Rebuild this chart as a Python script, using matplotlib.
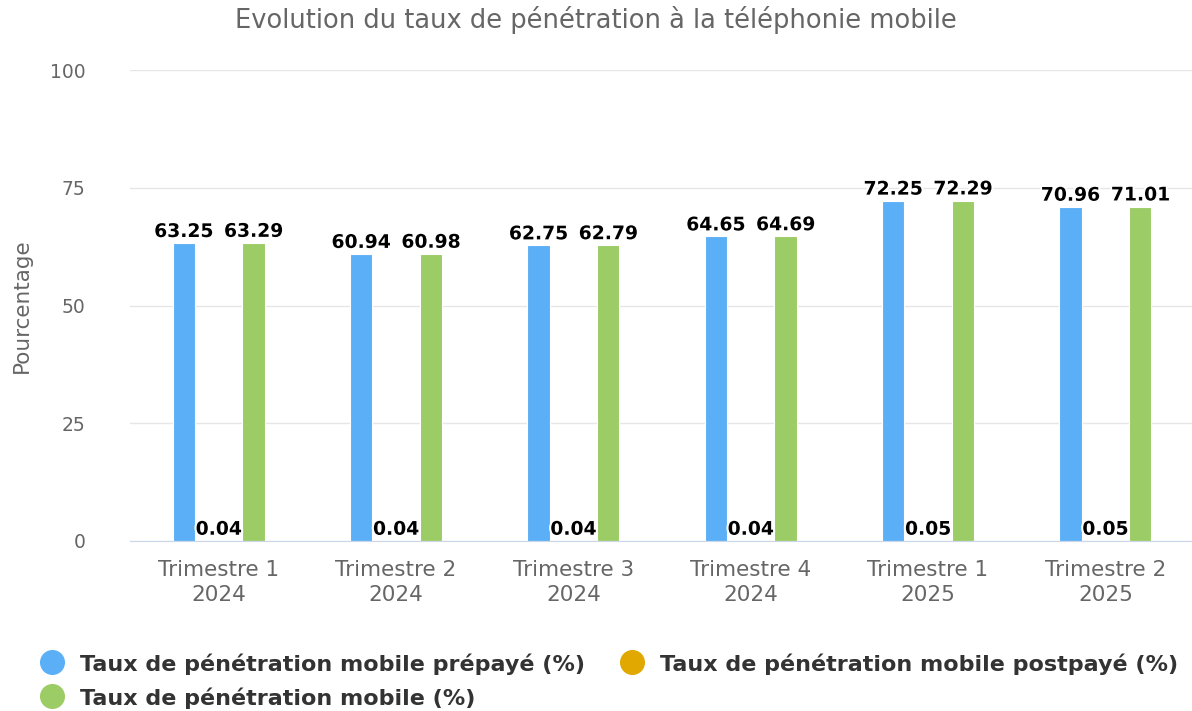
import matplotlib
matplotlib.use("Agg")
import matplotlib.pyplot as plt
import matplotlib.patheffects as pe
from matplotlib.lines import Line2D
import numpy as np

plt.rcParams["font.family"] = ["DejaVu Sans"]

categories = ["Trimestre 1\n2024", "Trimestre 2\n2024", "Trimestre 3\n2024",
              "Trimestre 4\n2024", "Trimestre 1\n2025", "Trimestre 2\n2025"]
prepaye = [63.25, 60.94, 62.75, 64.65, 72.25, 70.96]
postpaye = [0.04, 0.04, 0.04, 0.04, 0.05, 0.05]
mobile = [63.29, 60.98, 62.79, 64.69, 72.29, 71.01]
series_names = ["Taux de pénétration mobile prépayé (%)",
                "Taux de pénétration mobile postpayé (%)",
                "Taux de pénétration mobile (%)"]
colors = ["#5aaff6", "#e0a800", "#9ccc65"]

W, H = 1192, 711
fig = plt.figure(figsize=(W / 100, H / 100), dpi=100)
ax = fig.add_axes([130 / W, (H - 541) / H, 1064 / W, 471 / H])

x = np.arange(len(categories))
off = 0.197
bw = 0.126
series = [prepaye, postpaye, mobile]
outline = [pe.withStroke(linewidth=3, foreground="white")]
for k, (vals, c) in enumerate(zip(series, colors)):
    xs = x + (k - 1) * off
    ax.bar(xs, vals, width=bw, color=c, edgecolor="white", linewidth=0.8, zorder=3)
    for xi, v in zip(xs, vals):
        ax.annotate(f"{v:.2f}", (xi, v), xytext=(0, 1.5), textcoords="offset points",
                    ha="center", va="bottom", fontsize=13.5, fontweight="bold",
                    color="black", path_effects=outline, zorder=5)

ax.set_xlim(-0.5, len(categories) - 0.5)
ax.set_ylim(0, 100)
ax.set_yticks([0, 25, 50, 75, 100])
ax.grid(axis="y", color="#e6e6e6", linewidth=1, zorder=0)
for s in ["top", "right", "left"]:
    ax.spines[s].set_visible(False)
ax.spines["bottom"].set_color("#ccd6eb")
ax.spines["bottom"].set_zorder(4)
ax.set_xticks(x)
ax.set_xticklabels(categories, color="#666666", fontsize=15.5, linespacing=1.3)
ax.tick_params(axis="x", length=0, pad=14)
ax.tick_params(axis="y", length=0, pad=32, labelcolor="#666666", labelsize=13.5)
ax.set_ylabel("Pourcentage", color="#666666", fontsize=15.5)
ax.yaxis.set_label_coords(-98 / 1064, 0.5)

fig.text(596 / W, 1 - 20 / H, "Evolution du taux de pénétration à la téléphonie mobile",
         ha="center", va="center", color="#666666", fontsize=18.5)

# legend (drawn manually for precise placement)
legend_pos = [(52, 662), (632, 662), (52, 696)]
for (lx, ly), name, c in zip(legend_pos, series_names, colors):
    fig.add_artist(Line2D([lx / W], [1 - ly / H], marker="o", markersize=17,
                          color=c, linestyle="", transform=fig.transFigure))
    fig.text((lx + 28) / W, 1 - ly / H, name, ha="left", va="center_baseline",
             fontsize=16, fontweight="bold", color="#333333")

fig.savefig("out.png", dpi=100)
